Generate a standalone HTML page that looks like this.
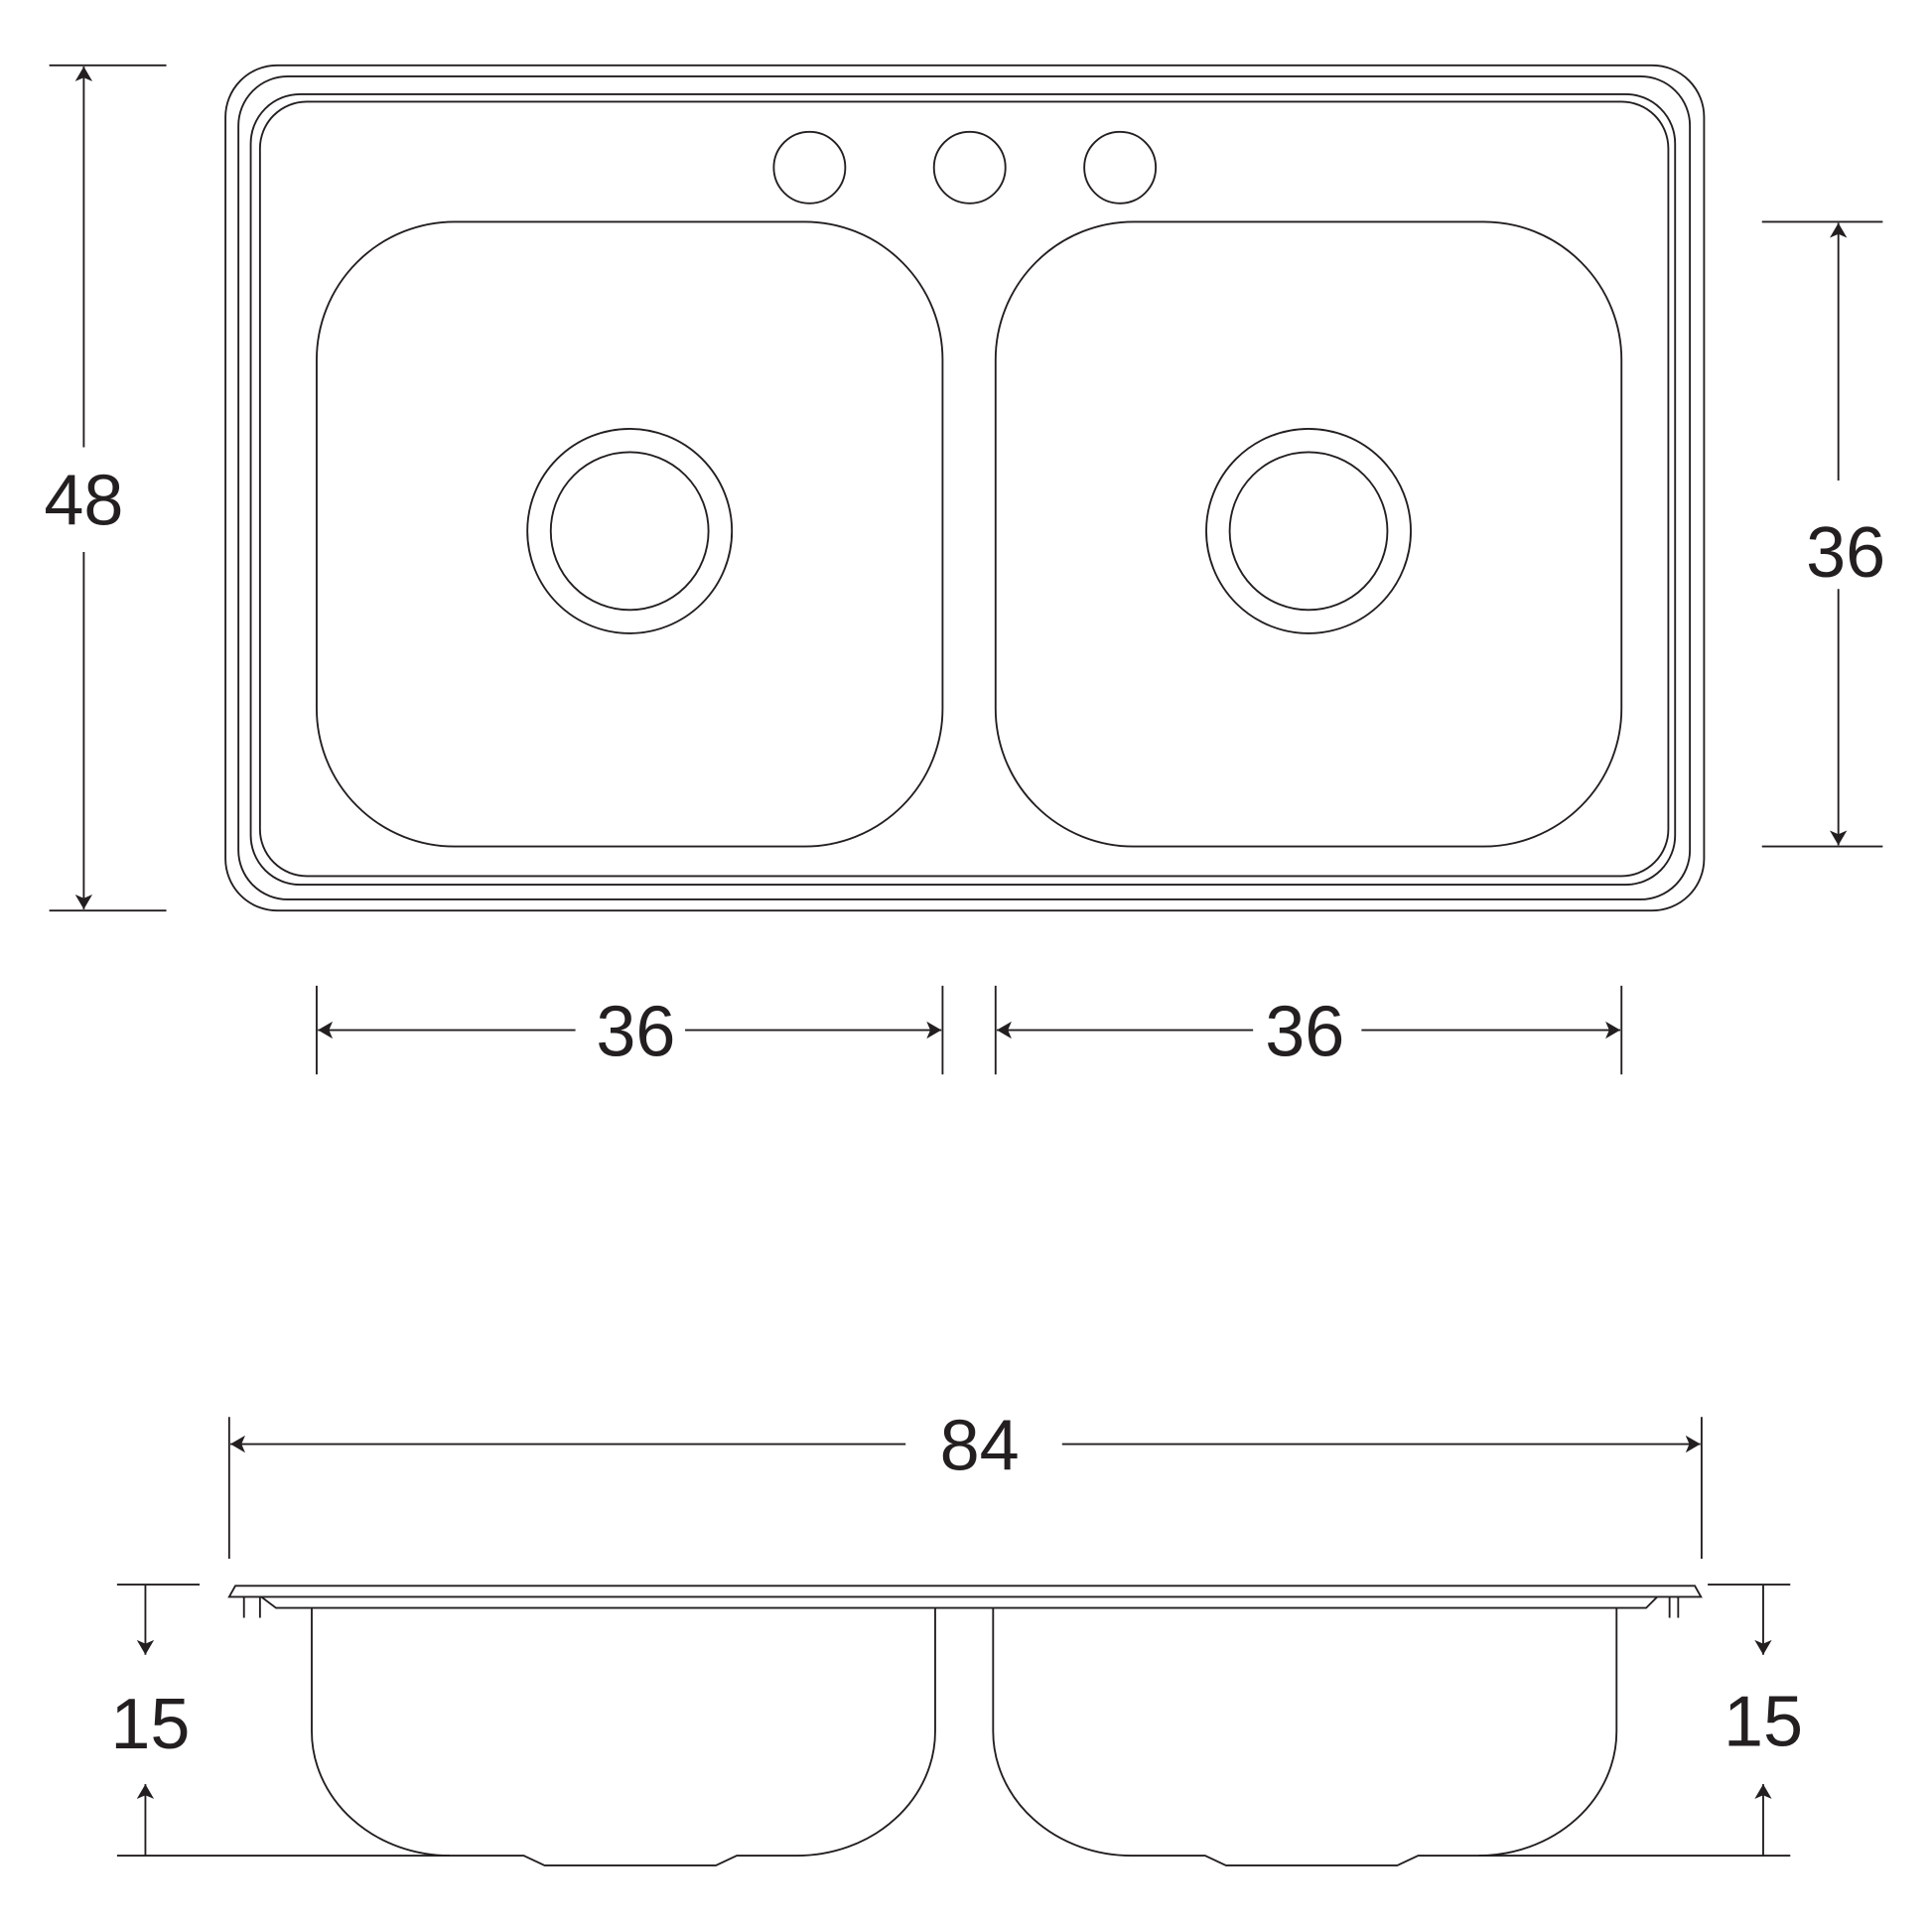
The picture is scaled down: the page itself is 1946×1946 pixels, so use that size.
<!DOCTYPE html>
<html><head><meta charset="utf-8"><style>
html,body{margin:0;padding:0;background:#fff;}
svg{display:block;}
text{font-family:"Liberation Sans",sans-serif;font-size:58px;fill:#231f20;text-anchor:middle;}
</style></head><body>
<svg width="1946" height="1946" viewBox="0 0 1568 1568" xmlns="http://www.w3.org/2000/svg">
<defs>
<marker id="a" viewBox="0 0 12 14" refX="12" refY="7" markerWidth="12" markerHeight="14" markerUnits="userSpaceOnUse" orient="auto">
<path d="M0,0 L12,7 L0,14 L3,7 Z" fill="#231f20"/>
</marker>
</defs>
<g fill="none" stroke="#231f20" stroke-width="1.5">
<!-- top view rims -->
<rect x="183" y="53" width="1200" height="686" rx="42"/>
<rect x="193.5" y="62" width="1178" height="668" rx="40"/>
<rect x="203.5" y="76.5" width="1156" height="641.5" rx="40"/>
<rect x="211" y="82.5" width="1143" height="628.5" rx="38"/>
<!-- basins -->
<rect x="257" y="180" width="508" height="507" rx="112"/>
<rect x="808" y="180" width="508" height="507" rx="112"/>
<circle cx="511" cy="431" r="83"/><circle cx="511" cy="431" r="64"/>
<circle cx="1062" cy="431" r="83"/><circle cx="1062" cy="431" r="64"/>
<circle cx="657" cy="136" r="29"/><circle cx="787" cy="136" r="29"/><circle cx="909" cy="136" r="29"/>
<!-- dim 48 -->
<line x1="40" y1="53" x2="135" y2="53"/><line x1="40" y1="739" x2="135" y2="739"/>
<line x1="68" y1="363" x2="68" y2="54" marker-end="url(#a)"/>
<line x1="68" y1="448" x2="68" y2="738" marker-end="url(#a)"/>
<!-- dim right 36 -->
<line x1="1430" y1="180" x2="1528" y2="180"/><line x1="1430" y1="687" x2="1528" y2="687"/>
<line x1="1492" y1="390" x2="1492" y2="181" marker-end="url(#a)"/>
<line x1="1492" y1="478" x2="1492" y2="686" marker-end="url(#a)"/>
<!-- bottom 36s -->
<line x1="257" y1="800" x2="257" y2="872"/><line x1="765" y1="800" x2="765" y2="872"/>
<line x1="467" y1="836" x2="258" y2="836" marker-end="url(#a)"/>
<line x1="556" y1="836" x2="764" y2="836" marker-end="url(#a)"/>
<line x1="808" y1="800" x2="808" y2="872"/><line x1="1316" y1="800" x2="1316" y2="872"/>
<line x1="1017" y1="836" x2="809" y2="836" marker-end="url(#a)"/>
<line x1="1105" y1="836" x2="1315" y2="836" marker-end="url(#a)"/>
<!-- 84 -->
<line x1="186" y1="1150" x2="186" y2="1265"/><line x1="1381" y1="1150" x2="1381" y2="1265"/>
<line x1="735" y1="1172" x2="187" y2="1172" marker-end="url(#a)"/>
<line x1="862" y1="1172" x2="1380" y2="1172" marker-end="url(#a)"/>
<!-- side view -->
<path d="M191,1287 L1375.5,1287 L1380.5,1296 L186,1296 Z"/>
<path d="M212,1296 L224,1305 L1336,1305 L1345,1296"/>
<line x1="198" y1="1296" x2="198" y2="1313"/><line x1="211" y1="1296" x2="211" y2="1313"/>
<line x1="1355" y1="1296" x2="1355" y2="1313"/><line x1="1362" y1="1296" x2="1362" y2="1313"/>
<path d="M253,1305 L253,1405 A112,101 0 0 0 365,1506 L425,1506 L442,1514 L581,1514 L598,1506 L647,1506 A112,101 0 0 0 759,1405 L759,1305"/>
<path d="M806,1305 L806,1405 A112,101 0 0 0 918,1506 L978,1506 L995,1514 L1134,1514 L1151,1506 L1200,1506 A112,101 0 0 0 1312,1405 L1312,1305"/>
<line x1="95" y1="1506" x2="365" y2="1506"/><line x1="1200" y1="1506" x2="1453" y2="1506"/>
<line x1="95" y1="1286" x2="162" y2="1286"/><line x1="1386" y1="1286" x2="1453" y2="1286"/>
<line x1="118" y1="1286" x2="118" y2="1343" marker-end="url(#a)"/>
<line x1="118" y1="1506" x2="118" y2="1448" marker-end="url(#a)"/>
<line x1="1431" y1="1286" x2="1431" y2="1343" marker-end="url(#a)"/>
<line x1="1431" y1="1506" x2="1431" y2="1448" marker-end="url(#a)"/>
</g>
<text x="68" y="426">48</text>
<text x="1498" y="468">36</text>
<text x="516" y="857">36</text>
<text x="1059" y="857">36</text>
<text x="795" y="1193">84</text>
<text x="122" y="1419">15</text>
<text x="1431" y="1417">15</text>
</svg>
</body></html>
